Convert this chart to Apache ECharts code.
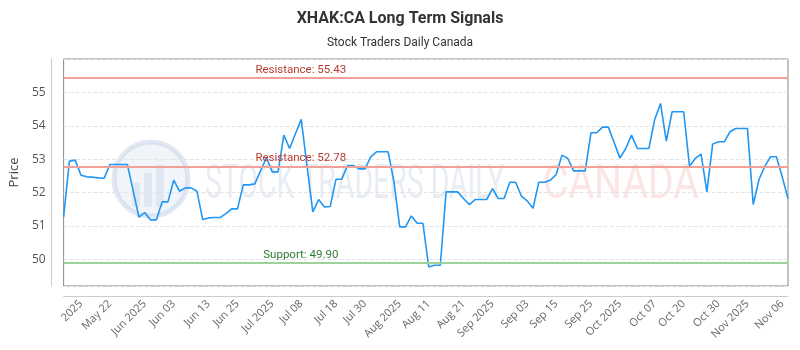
<!DOCTYPE html>
<html>
<head>
<meta charset="utf-8">
<script src="https://cdn.jsdelivr.net/npm/echarts@6/dist/echarts.min.js"></script>
<style>html,body{margin:0;padding:0;background:#fff;}#c{width:800px;height:350px;}</style>
</head>
<body>
<div id="c"></div>
<script>
// Closing prices, one per trading day
const prices = [
  51.27, 52.94, 52.97, 52.52, 52.47, 52.46, 52.44, 52.43, 52.84, 52.84, 52.84, 52.84, 52.05, 51.26, 51.40, 51.18, 51.18, 51.72, 51.72, 52.37, 52.04, 52.14, 52.14, 52.04, 51.19,
  51.24, 51.25, 51.25, 51.37, 51.51, 51.51, 52.23, 52.23, 52.26, 52.66, 53.04, 52.62, 52.62, 53.72, 53.32, 53.76, 54.19, 52.80, 51.42, 51.79, 51.57, 51.58, 52.40, 52.40,
  52.81, 52.81, 52.71, 52.71, 53.07, 53.22, 53.22, 53.22, 52.32, 50.97, 50.97, 51.30, 51.08, 51.08, 49.77, 49.82, 49.82, 52.02, 52.02, 52.02, 51.82, 51.64, 51.79, 51.79, 51.79, 52.12,
  51.82, 51.82, 52.31, 52.31, 51.89, 51.75, 51.53, 52.31, 52.31, 52.37, 52.54, 53.12, 53.02, 52.65, 52.65, 52.65, 53.79, 53.79, 53.96, 53.96, 53.50, 53.03, 53.32, 53.72, 53.32,
  53.32, 53.32, 54.19, 54.67, 53.54, 54.42, 54.42, 54.42, 52.79, 53.02, 53.15, 52.02, 53.45, 53.52, 53.52, 53.82, 53.92, 53.92, 53.92, 51.64, 52.39, 52.79, 53.07, 53.07, 52.47, 51.82
];
// x-axis tick labels and the category index where each sits
const tickLabels = ["2025","May 22","Jun 2025","Jun 03","Jun 13","Jun 25","Jul 2025","Jul 08","Jul 18","Jul 30","Aug 2025","Aug 11","Aug 21","Sep 2025","Sep 03","Sep 15","Sep 25","Oct 2025","Oct 07","Oct 20","Oct 30","Nov 2025","Nov 06"];
const tickIndex  = [3, 8, 14, 19, 25, 30, 36, 41, 47, 52, 58, 63, 69, 74, 80, 85, 91, 96, 102, 107, 113, 118, 124];
// Signal levels
const resistanceLevels = [55.43, 52.78];
const supportLevels = [49.90];

const categories = prices.map((_, i) => String(i));
const labelMap = {};
tickIndex.forEach((idx, k) => { labelMap[idx] = tickLabels[k]; });

const FONT = 'Roboto, "Open Sans", sans-serif';
const AXFONT = '"Open Sans", Roboto, sans-serif';
const chart = echarts.init(document.getElementById('c'), null, {renderer: 'canvas'});

const markData = [];
resistanceLevels.forEach(v => markData.push({
  yAxis: v,
  lineStyle: {color: '#f3a098', width: 2, type: 'solid'},
  label: {formatter: 'Resistance: ' + v.toFixed(2), color: '#b83a30'}
}));
supportLevels.forEach(v => markData.push({
  yAxis: v,
  lineStyle: {color: '#9ed29b', width: 2, type: 'solid'},
  label: {formatter: 'Support: ' + v.toFixed(2), color: '#2e7d32'}
}));

chart.setOption({
  animation: false,
  textStyle: {fontFamily: FONT},
  title: {
    text: 'XHAK:CA Long Term Signals',
    subtext: 'Stock Traders Daily Canada',
    left: 'center',
    top: 6,
    itemGap: 10,
    textStyle: {fontSize: 16, fontWeight: 'bold', color: '#333', fontFamily: FONT},
    subtextStyle: {fontSize: 12, color: '#333', fontFamily: FONT}
  },
  graphic: [
    {type: 'circle', silent: true, z: -10, shape: {cx: 151, cy: 179, r: 37},
      style: {fill: 'rgba(215,225,240,0.35)', stroke: 'rgba(190,205,228,0.45)', lineWidth: 5}},
    {type: 'rect', silent: true, z: -10, shape: {x: 132, y: 183, width: 8, height: 24},
      style: {fill: 'rgba(190,205,228,0.35)'}},
    {type: 'rect', silent: true, z: -10, shape: {x: 144, y: 173, width: 8, height: 34},
      style: {fill: 'rgba(190,205,228,0.35)'}},
    {type: 'rect', silent: true, z: -10, shape: {x: 156, y: 165, width: 8, height: 42},
      style: {fill: 'rgba(190,205,228,0.35)'}},
    {type: 'text', silent: true, z: -10, x: 205, y: 161, scaleX: 0.58,
      style: {text: 'STOCK TRADERS DAILY', fontSize: 49, fontFamily: 'Roboto', fill: 'rgba(205,215,230,0.45)'}},
    {type: 'text', silent: true, z: -10, x: 543, y: 161, scaleX: 0.8,
      style: {text: 'CANADA', fontSize: 49, fontFamily: 'Roboto', fill: 'rgba(245,160,160,0.28)'}}
  ],
  grid: {left: 62, right: 12, top: 59, bottom: 64, show: true, borderColor: '#888', borderWidth: 1, backgroundColor: 'transparent'},
  xAxis: {
    type: 'category',
    data: categories,
    boundaryGap: false,
    offset: 10,
    axisLine: {show: true, lineStyle: {color: '#ccc'}},
    axisTick: {show: false},
    splitLine: {show: false},
    axisLabel: {
      rotate: 45,
      fontSize: 11,
      fontFamily: AXFONT,
      color: '#666',
      margin: 6,
      interval: (index) => labelMap[index] !== undefined,
      formatter: (value, index) => labelMap[index] || ''
    }
  },
  yAxis: {
    type: 'value',
    min: 49.2,
    max: 56,
    minInterval: 1,
    maxInterval: 1,
    offset: 12,
    name: 'Price',
    nameLocation: 'middle',
    nameGap: 30,
    nameTextStyle: {fontSize: 13, color: '#444', fontFamily: AXFONT},
    axisLine: {show: true, lineStyle: {color: '#ccc'}},
    axisTick: {show: false},
    axisLabel: {fontSize: 12, color: '#555', fontFamily: AXFONT, margin: 6, showMinLabel: false, showMaxLabel: false},
    splitLine: {show: true, lineStyle: {color: '#e4e4e4', type: 'dashed'}}
  },
  series: [{
    type: 'line',
    data: prices,
    symbol: 'none',
    lineStyle: {color: '#2196f3', width: 1.6},
    z: 3,
    markLine: {
      silent: true,
      symbol: 'none',
      precision: 2,
      label: {position: 'insideMiddleTop', fontSize: 11.5, distance: 2, padding: [0, 250, 0, 0]},
      data: markData
    }
  }]
});
</script>
</body>
</html>
